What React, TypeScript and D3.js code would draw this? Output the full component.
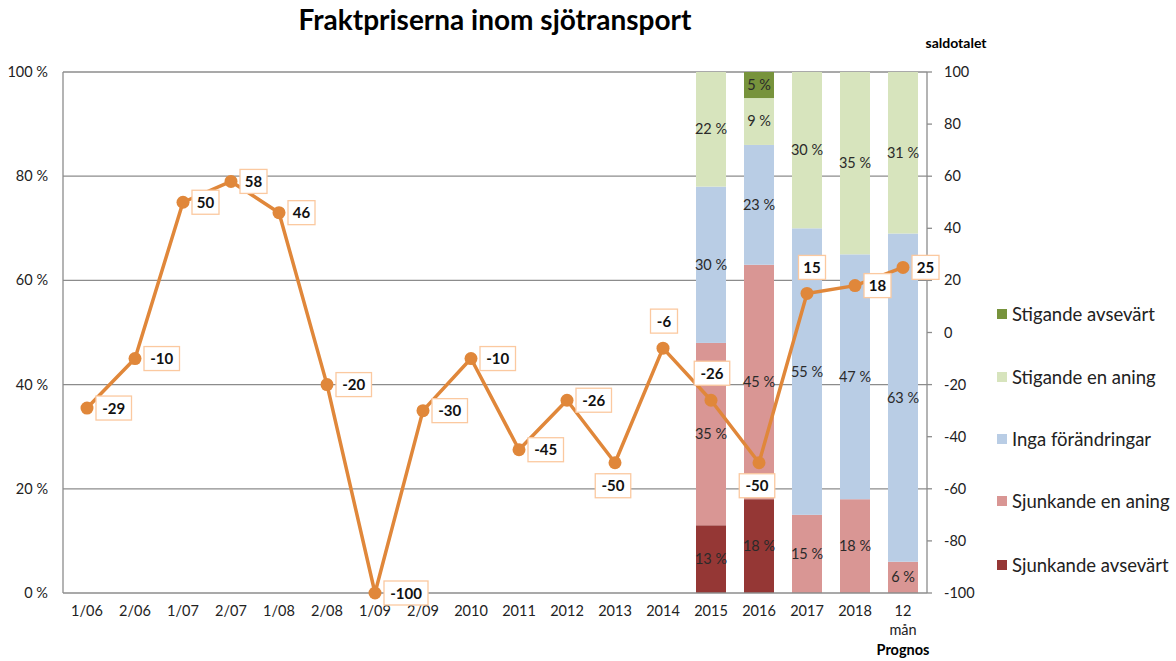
import React, { useEffect, useRef } from 'react'
import * as d3 from 'd3'

const categories = ['1/06', '2/06', '1/07', '2/07', '1/08', '2/08', '1/09', '2/09', '2010', '2011', '2012', '2013', '2014', '2015', '2016', '2017', '2018', '12 mån']
const saldo = [-29, -10, 50, 58, 46, -20, -100, -30, -10, -45, -26, -50, -6, -26, -50, 15, 18, 25]
const labelPos = ['r', 'r', 'r', 'r', 'r', 'r', 'r', 'r', 'r', 'r', 'r', 'b', 't', 't', 'b', 'tr', 'r', 'r']

const barCategories = ['2015', '2016', '2017', '2018', '12 mån']
const sjunkandeAvsevart = [13, 18, 0, 0, 0]
const sjunkandeAning = [35, 45, 15, 18, 6]
const ingaForandringar = [30, 23, 55, 47, 63]
const stigandeAning = [22, 9, 30, 35, 31]
const stigandeAvsevart = [0, 5, 0, 0, 0]

const seriesNames = ['Sjunkande avsevärt', 'Sjunkande en aning', 'Inga förändringar', 'Stigande en aning', 'Stigande avsevärt']
const seriesColors = ['#953735', '#d99694', '#b9cde5', '#d7e4bd', '#77933c']

const leftTicks = [0, 20, 40, 60, 80, 100]
const rightTicks = [-100, -80, -60, -40, -20, 0, 20, 40, 60, 80, 100]

export default function App() {
  const ref = useRef<SVGSVGElement>(null)

  useEffect(() => {
    const svg = d3.select(ref.current)
    svg.selectAll('*').remove()
    const font = 'Lato, "Open Sans", sans-serif'
    const left = 63, right = 927, top = 72, bottom = 593

    const x = d3.scaleBand().domain(categories).range([left, right])
    const cx = (c: string) => (x(c) as number) + x.bandwidth() / 2
    const yPct = d3.scaleLinear().domain([0, 100]).range([bottom, top])
    const ySaldo = d3.scaleLinear().domain([-100, 100]).range([bottom, top])

    // title
    svg.append('text').attr('x', 495).attr('y', 30).attr('text-anchor', 'middle')
      .style('font-family', font).style('font-size', '28px').style('font-weight', 'bold')
      .text('Fraktpriserna inom sjötransport')

    // gridlines
    svg.append('g').selectAll('line').data(leftTicks.filter(t => t > 0)).join('line')
      .attr('x1', left).attr('x2', right).attr('y1', d => yPct(d)).attr('y2', d => yPct(d))
      .attr('stroke', '#8c8c8c').attr('stroke-width', 1.3)

    // stacked bars
    const rows = barCategories.map((c, i) => ({
      cat: c,
      s0: sjunkandeAvsevart[i], s1: sjunkandeAning[i], s2: ingaForandringar[i], s3: stigandeAning[i], s4: stigandeAvsevart[i]
    }))
    const stack = d3.stack<any>().keys(['s0', 's1', 's2', 's3', 's4'])(rows)
    const barW = x.bandwidth() * 0.625
    stack.forEach((layer, li) => {
      const g = svg.append('g')
      layer.forEach(seg => {
        const v = seg[1] - seg[0]
        if (v <= 0) return
        const c = seg.data.cat
        g.append('rect').attr('x', cx(c) - barW / 2).attr('width', barW)
          .attr('y', yPct(seg[1])).attr('height', yPct(seg[0]) - yPct(seg[1]))
          .attr('fill', seriesColors[li])
        g.append('text').attr('x', cx(c)).attr('y', (yPct(seg[0]) + yPct(seg[1])) / 2 + 5)
          .attr('text-anchor', 'middle').style('font-family', font).style('font-size', '14.5px')
          .attr('fill', '#2a2a2a').text(`${v} %`)
      })
    })

    // axes lines
    svg.append('line').attr('x1', left).attr('x2', left).attr('y1', top).attr('y2', bottom).attr('stroke', '#8c8c8c').attr('stroke-width', 1.3)
    svg.append('line').attr('x1', right).attr('x2', right).attr('y1', top).attr('y2', bottom).attr('stroke', '#8c8c8c').attr('stroke-width', 1.3)
    svg.append('line').attr('x1', left).attr('x2', right).attr('y1', bottom).attr('y2', bottom).attr('stroke', '#8c8c8c').attr('stroke-width', 1.3)

    // left ticks
    svg.append('g').selectAll('text').data(leftTicks).join('text')
      .attr('x', 48).attr('y', d => yPct(d) + 5).attr('text-anchor', 'end')
      .style('font-family', font).style('font-size', '14.5px').attr('fill', '#222')
      .text(d => `${d} %`)

    // right ticks
    const rt = svg.append('g')
    rt.selectAll('line').data(rightTicks).join('line')
      .attr('x1', right).attr('x2', right + 5).attr('y1', d => ySaldo(d)).attr('y2', d => ySaldo(d))
      .attr('stroke', '#8c8c8c').attr('stroke-width', 1.3)
    rt.selectAll('text').data(rightTicks).join('text')
      .attr('x', 944).attr('y', d => ySaldo(d) + 5)
      .style('font-family', font).style('font-size', '14.5px').attr('fill', '#222')
      .text(d => `${d}`)
    svg.append('text').attr('x', 956).attr('y', 48).attr('text-anchor', 'middle')
      .style('font-family', font).style('font-size', '14px').style('font-weight', 'bold')
      .text('saldotalet')

    // x labels
    const xl = svg.append('g')
    categories.forEach(c => {
      const parts = c.split(' ')
      parts.forEach((p, i) => {
        xl.append('text').attr('x', cx(c)).attr('y', 616 + i * 19).attr('text-anchor', 'middle')
          .style('font-family', font).style('font-size', '14.5px').attr('fill', '#222').text(p)
      })
    })
    xl.append('text').attr('x', cx('12 mån')).attr('y', 655).attr('text-anchor', 'middle')
      .style('font-family', font).style('font-size', '14.5px').style('font-weight', 'bold').text('Prognos')

    // line
    const lineColor = '#e0873a'
    const line = d3.line<number>().x((d, i) => cx(categories[i])).y(d => ySaldo(d))
    svg.append('path').datum(saldo).attr('d', line).attr('fill', 'none')
      .attr('stroke', lineColor).attr('stroke-width', 3.5).attr('stroke-linejoin', 'round')
    svg.append('g').selectAll('circle').data(saldo).join('circle')
      .attr('cx', (d, i) => cx(categories[i])).attr('cy', d => ySaldo(d)).attr('r', 6.5)
      .attr('fill', lineColor)

    // data labels
    const lg = svg.append('g')
    saldo.forEach((v, i) => {
      const px = cx(categories[i]), py = ySaldo(v)
      const txt = `${v}`
      const w = txt.length * 8.5 + 10
      const h = 24
      let lx = px + 9 + w / 2, ly = py
      const pos = labelPos[i]
      if (pos === 'b') { lx = px - 2; ly = py + 23 }
      if (pos === 't') { lx = px + 1; ly = py - 27 }
      if (pos === 'tr') { lx = px + 5; ly = py - 26 }
      lg.append('rect').attr('x', lx - w / 2).attr('y', ly - h / 2).attr('width', w).attr('height', h)
        .attr('fill', '#fff').attr('stroke', '#fbc9a0').attr('stroke-width', 1.3)
      lg.append('text').attr('x', lx).attr('y', ly + 5.5).attr('text-anchor', 'middle')
        .style('font-family', font).style('font-size', '15px').style('font-weight', 'bold')
        .attr('fill', '#111').text(txt)
    })

    // legend
    const legY = [314, 377, 439, 501, 565]
    const legOrder = [4, 3, 2, 1, 0]
    legOrder.forEach((si, k) => {
      svg.append('rect').attr('x', 997).attr('y', legY[k] - 5).attr('width', 10).attr('height', 10).attr('fill', seriesColors[si])
      svg.append('text').attr('x', 1012).attr('y', legY[k] + 6.5)
        .style('font-family', font).style('font-size', '18.5px').attr('fill', '#222').text(seriesNames[si])
    })
  }, [])

  return (
    <svg ref={ref} width={1176} height={661} style={{ position: 'absolute', left: 0, top: 0, background: '#fff' }} />
  )
}
